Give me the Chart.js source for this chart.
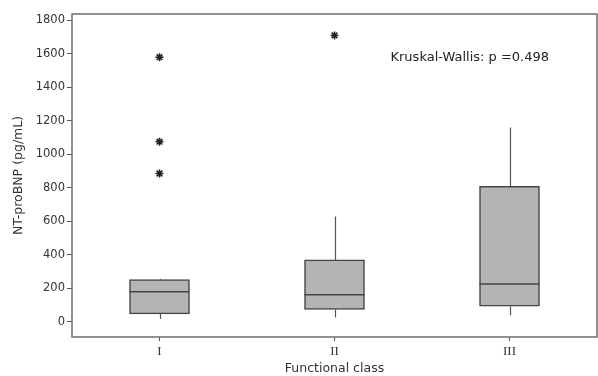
<!DOCTYPE html>
<html><head><meta charset="utf-8">
<script src="https://cdn.jsdelivr.net/npm/chart.js@4/dist/chart.umd.min.js"></script>
<style>html,body{margin:0;padding:0;background:#fff}#wrap{width:598px;height:376px}</style>
</head><body><div id="wrap"><canvas id="c" width="598" height="376"></canvas></div>
<script>
const categories = ['I', 'II', 'III'];
const whiskerLow = [18, 26, 40];
const q1 = [48, 74, 94];
const median = [180, 162, 226];
const q3 = [252, 370, 810];
const whiskerHigh = [258, 630, 1160];
const outliers = [
  {x: 'I', y: 1580}, {x: 'I', y: 1076}, {x: 'I', y: 886},
  {x: 'II', y: 1710}
];
const yTicks = [0, 200, 400, 600, 800, 1000, 1200, 1400, 1600, 1800];
const annotationText = 'Kruskal-Wallis: p =0.498';
const annotationPos = {x: 1.32, y: 1580};

const FONT = 'DejaVu Sans';
const boxPlugin = {
  id: 'boxExtras',
  afterDatasetsDraw(chart) {
    const ctx = chart.ctx, xs = chart.scales.x, ys = chart.scales.y;
    const meta = chart.getDatasetMeta(0);
    ctx.save();
    categories.forEach((c, i) => {
      const bar = meta.data[i];
      const half = bar.width / 2;
      const x = Math.round(xs.getPixelForValue(i)) + 0.5;
      ctx.strokeStyle = '#555';
      ctx.lineWidth = 1.2;
      ctx.beginPath();
      ctx.moveTo(x, ys.getPixelForValue(q3[i]));
      ctx.lineTo(x, ys.getPixelForValue(whiskerHigh[i]));
      ctx.moveTo(x, ys.getPixelForValue(q1[i]));
      ctx.lineTo(x, ys.getPixelForValue(whiskerLow[i]));
      ctx.stroke();
      ctx.beginPath();
      ctx.lineWidth = 1.6;
      ctx.strokeStyle = '#444';
      const ym = ys.getPixelForValue(median[i]);
      ctx.moveTo(bar.x - half, ym);
      ctx.lineTo(bar.x + half, ym);
      ctx.stroke();
    });
    // frame
    const a = chart.chartArea;
    ctx.strokeStyle = '#6e6e6e';
    ctx.lineWidth = 1.5;
    ctx.strokeRect(a.left, a.top, a.right - a.left, a.bottom - a.top);
    // annotation
    ctx.fillStyle = '#222';
    ctx.font = '13px "' + FONT + '"';
    ctx.textAlign = 'left';
    ctx.textBaseline = 'middle';
    ctx.fillText(annotationText, xs.getPixelForValue(annotationPos.x), ys.getPixelForValue(annotationPos.y));
    ctx.restore();
  }
};

new Chart(document.getElementById('c'), {
  type: 'bar',
  data: {
    labels: categories,
    datasets: [
      {
        type: 'bar',
        data: categories.map((c, i) => [q1[i], q3[i]]),
        backgroundColor: '#b4b4b4',
        borderColor: '#444',
        borderWidth: 1.5,
        borderSkipped: false,
        barThickness: 60,
        order: 2
      },
      {
        type: 'scatter',
        data: outliers,
        pointStyle: 'star',
        radius: 4,
        borderColor: '#222',
        backgroundColor: '#222',
        borderWidth: 1.6,
        showLine: false,
        order: 1
      }
    ]
  },
  options: {
    responsive: false,
    animation: false,
    devicePixelRatio: 1,
    layout: {autoPadding: false, padding: {top: 14, right: 1, left: 0, bottom: 0}},
    plugins: {legend: {display: false}, tooltip: {enabled: false}},
    scales: {
      x: {
        type: 'category',
        offset: true,
        grid: {display: true, drawOnChartArea: false, drawTicks: true, tickLength: 4, color: '#555', offset: false},
        border: {display: false},
        ticks: {color: '#333', font: {family: 'Liberation Serif', size: 13}, padding: 3},
        title: {display: true, text: 'Functional class', color: '#333', font: {family: FONT, size: 12.5}, padding: {top: 0, bottom: 0}},
        afterFit(s) { s.height = 39; s.paddingLeft = 0; s.paddingRight = 0; }
      },
      y: {
        type: 'linear',
        min: -90,
        max: 1838,
        afterBuildTicks(s) { s.ticks = yTicks.map(v => ({value: v})); },
        grid: {display: true, drawOnChartArea: false, drawTicks: true, tickLength: 5, color: '#555'},
        border: {display: false},
        ticks: {color: '#333', font: {family: FONT, size: 11.5}, padding: 2, callback: v => String(v)},
        title: {display: true, text: 'NT-proBNP (pg/mL)', color: '#333', font: {family: FONT, size: 12.5}, padding: {top: 11, bottom: 4}},
        afterFit(s) { s.width = 72; }
      }
    }
  },
  plugins: [boxPlugin]
});
</script>
</body></html>
